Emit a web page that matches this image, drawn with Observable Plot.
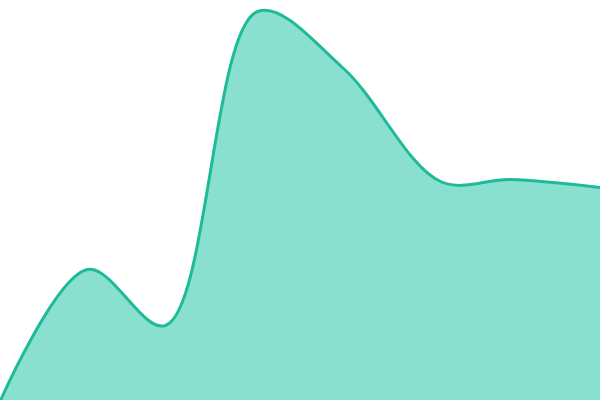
<!DOCTYPE html>
<html><head><meta charset="utf-8">
<script src="https://cdn.jsdelivr.net/npm/d3@7"></script>
<script src="https://cdn.jsdelivr.net/npm/@observablehq/plot@0.6"></script>
<style>body{margin:0;background:#fff}</style>
</head><body><div id="chart"></div>
<script>
const xs = [0, 87, 165, 257, 343, 440, 510, 600];
const values = [0, 32.75, 18.75, 97.25, 83, 54.75, 55.25, 53.25];
const data = xs.map((x, i) => ({x, v: values[i]}));
const chart = Plot.plot({
  width: 600, height: 400,
  margin: 0,
  x: {domain: [0, 600], axis: null},
  y: {domain: [0, 100], axis: null},
  marks: [
    Plot.areaY(data, {x: "x", y: "v", curve: "catmull-rom", fill: "#89e0cf"}),
    Plot.lineY(data, {x: "x", y: "v", curve: "catmull-rom", stroke: "#1fbb98", strokeWidth: 3})
  ]
});
document.getElementById("chart").append(chart);
</script></body></html>
